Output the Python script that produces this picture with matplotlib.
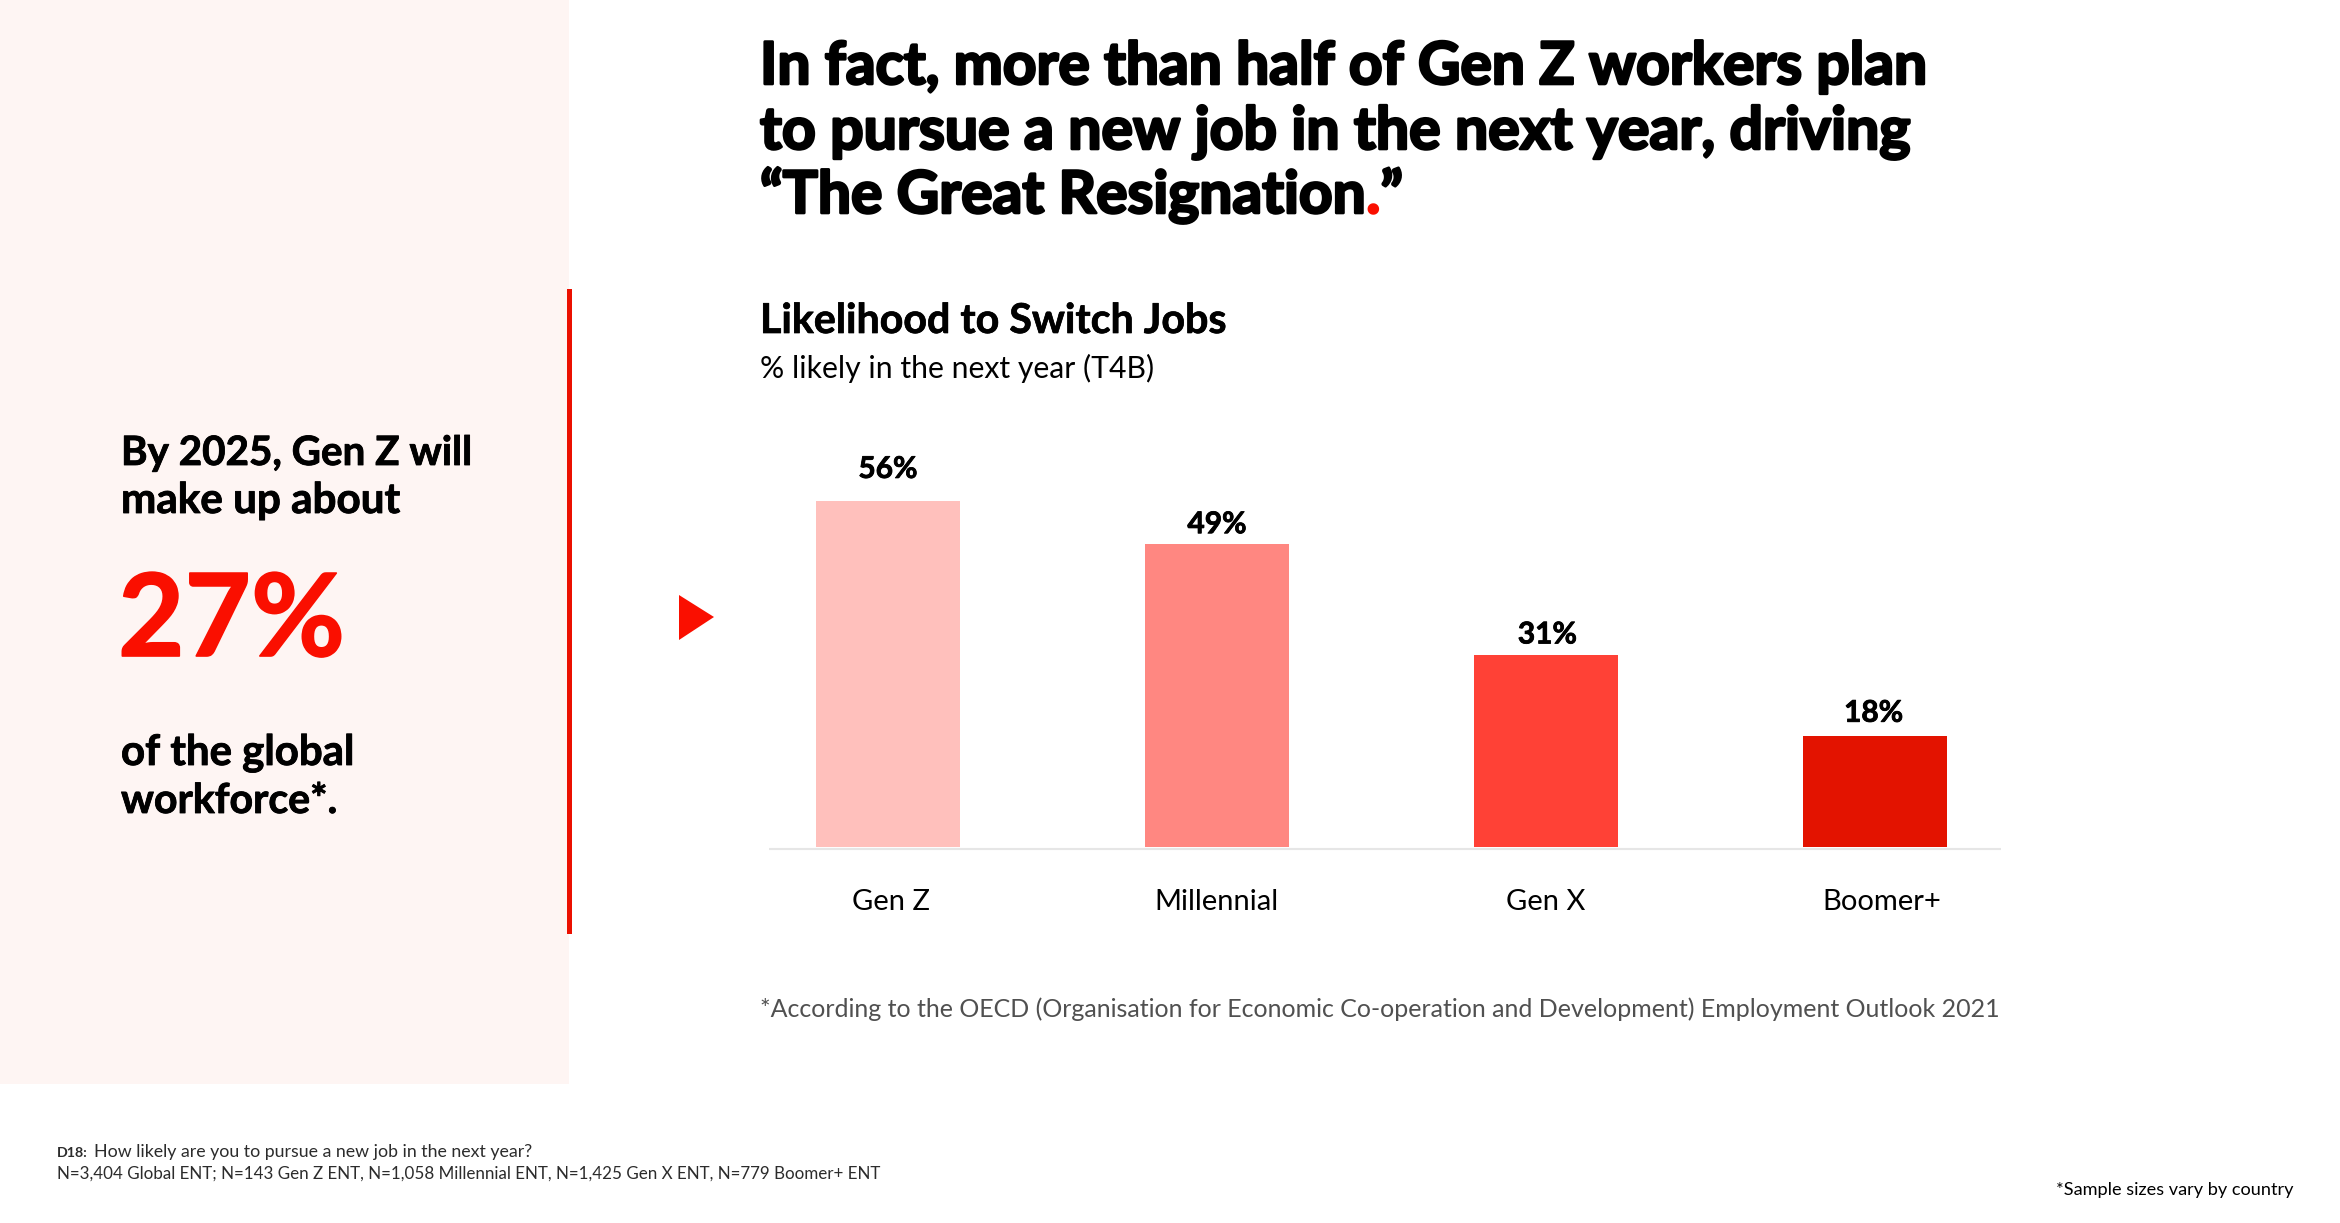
import matplotlib
matplotlib.use("Agg")
import matplotlib.pyplot as plt
from matplotlib.patches import Rectangle, Polygon
from matplotlib.transforms import ScaledTranslation
import matplotlib.patheffects as pe

categories = ["Gen Z", "Millennial", "Gen X", "Boomer+"]
values = [56, 49, 31, 18]

bar_colors = ["#FFC0BC", "#FF8781", "#FF4136", "#E31300"]
RED = "#FA0F00"
W, H = 2340, 1223
SANS = "Lato"

plt.rcParams["font.family"] = [SANS, "DejaVu Sans"]
fig = plt.figure(figsize=(W / 100, H / 100), dpi=100, facecolor="white")
renderer = fig.canvas.get_renderer()

# page layer in pixel coordinates
ov = fig.add_axes([0, 0, 1, 1], zorder=0)
ov.set_xlim(0, W); ov.set_ylim(H, 0); ov.axis("off")


def heavy(t, lw):
    if lw:
        t.set_path_effects([pe.withStroke(linewidth=lw, foreground=t.get_color())])
    return t


def txt(x, y, s, width=None, size=20, weight="normal", color="black", ha="left", stroke=0):
    t = ov.text(x, y, s, fontsize=size, fontweight=weight, color=color, ha=ha, va="baseline")
    if width:
        w = t.get_window_extent(renderer).width
        t.set_fontsize(size * width / w)
    return heavy(t, stroke)


ov.add_patch(Rectangle((0, 0), 569, 1084, fc="#FEF5F3", ec="none"))
ov.add_patch(Rectangle((567, 289), 5, 645, fc="#EB1000", ec="none"))
ov.add_patch(Polygon([(679, 595), (714, 617), (679, 640)], closed=True, fc=RED, ec="none"))

# left panel
txt(121, 465, "By 2025, Gen Z will", width=351, size=28, weight="bold", stroke=0.6)
txt(121, 513, "make up about", width=279, size=28, weight="bold", stroke=0.6)
txt(118, 656, "27%", width=227, size=80, weight="bold", color=RED, stroke=1.2)
txt(121, 765, "of the global", width=233, size=28, weight="bold", stroke=0.6)
txt(121, 813, "workforce*.", width=216, size=28, weight="bold", stroke=0.6)

# headline
HS = 1.9
txt(760, 84, "In fact, more than half of Gen Z workers plan", width=1167, size=40, weight="bold", stroke=HS)
txt(760, 149, "to pursue a new job in the next year, driving", width=1150, size=40, weight="bold", stroke=HS)
# last line: three runs, sized together so the whole line has the reference width
probe = ov.text(0, 0, "“The Great Resignation.”", fontsize=40, fontweight="bold")
t1_size = 40 * 642 / probe.get_window_extent(renderer).width
probe.remove()
t1 = txt(760, 213, "“The Great Resignation", size=t1_size, weight="bold", stroke=HS)
xpx = t1.get_window_extent(renderer).x1
t2 = txt(xpx, 213, ".", size=t1_size, weight="bold", color=RED, stroke=HS)
xpx2 = t2.get_window_extent(renderer).x1
txt(xpx2, 213, "”", size=t1_size, weight="bold", stroke=HS)

txt(760, 333, "Likelihood to Switch Jobs", width=466, size=30, weight="bold", stroke=0.5)
txt(760, 378, "% likely in the next year (T4B)", width=394, size=23)
txt(760, 1017, "*According to the OECD (Organisation for Economic Co-operation and Development) Employment Outlook 2021",
    width=1249, size=19, color="#505050")

# footer
txt(57, 1157, "D18:", width=31, size=10, weight="bold", color="#2C2C2C")
txt(94, 1157, "How likely are you to pursue a new job in the next year?", width=437, size=13, color="#2C2C2C")
txt(57, 1179, "N=3,404 Global ENT; N=143 Gen Z ENT, N=1,058 Millennial ENT, N=1,425 Gen X ENT, N=779 Boomer+ ENT",
    width=822, size=13, color="#2C2C2C")
txt(2056, 1195, "*Sample sizes vary by country", width=237, size=13)

# baseline rule under the bars
ov.plot([769, 2001], [849, 849], color="#E6E6E6", lw=1.5, solid_capstyle="butt")

# chart: positions derive from bar centres (888..1875 px) and 6.18 px per percent
left, right = 723.5, 2039.5
bottom, top = 847, 847 - 6.18 * 60
ax = fig.add_axes([left / W, 1 - bottom / H, (right - left) / W, (bottom - top) / H], zorder=1)
ax.patch.set_alpha(0)
ax.set_xlim(-0.5, 3.5)
ax.set_ylim(0, 60)
xs = range(len(categories))
ax.bar(xs, values, width=0.436, color=bar_colors, linewidth=0)
for s in ax.spines.values():
    s.set_visible(False)
ax.set_yticks([])
ax.set_xticks(list(xs))
ax.set_xticklabels(categories)
ax.tick_params(axis="x", length=0, pad=45.5, labelsize=21)
label_shift_px = [3, -1, 0, 7]
for lab, dx in zip(ax.get_xticklabels(), label_shift_px):
    lab.set_verticalalignment("baseline")
    lab.set_transform(lab.get_transform() + ScaledTranslation(dx / 100, 0, fig.dpi_scale_trans))

label_gap_px = [23, 11, 12, 14]
label_dx_pt = [0, 0, 1, -1]
for x, v, g, d in zip(xs, values, label_gap_px, label_dx_pt):
    a = ax.annotate(f"{v}%", (x, v), xytext=(d, g * 0.72), textcoords="offset points",
                    ha="center", va="baseline", fontsize=21.5, fontweight="bold", color="black")
    heavy(a, 0.6)

fig.savefig("out.png", dpi=100)
